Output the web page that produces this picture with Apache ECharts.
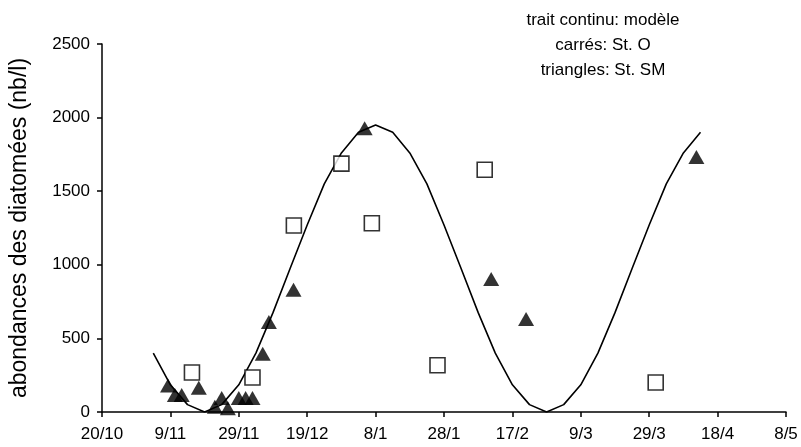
<!DOCTYPE html>
<html>
<head>
<meta charset="utf-8">
<script src="https://cdn.jsdelivr.net/npm/echarts@6/dist/echarts.min.js"></script>
<style>
  html, body { margin: 0; padding: 0; background: #fff; }
  #chart { width: 801px; height: 447px; }
</style>
</head>
<body>
<div id="chart"></div>
<script>
// Day numbers count from 20/10 (day 0); one tick every 20 days.
const tickLabels = ['20/10', '9/11', '29/11', '19/12', '8/1', '28/1', '17/2', '9/3', '29/3', '18/4', '8/5'];

// Model curve (trait continu), sampled every 5 days
const modelDays = [15, 20, 25, 30, 35, 40, 45, 50, 55, 60, 65, 70, 75, 80, 85, 90, 95,
  100, 105, 110, 115, 120, 125, 130, 135, 140, 145, 150, 155, 160, 165, 170, 175];
const modelValues = [400, 185, 50, 0, 50, 185, 400, 675, 975, 1270, 1550, 1760, 1900, 1950, 1900, 1760, 1550,
  1270, 975, 675, 400, 185, 50, 0, 50, 185, 400, 675, 975, 1270, 1550, 1760, 1900];

// Station O (carrés)
const stODays = [26.3, 44, 56.1, 70, 78.9, 98.1, 111.9, 161.9];
const stOValues = [268, 234, 1267, 1687, 1282, 318, 1646, 200];

// Station SM (triangles)
const stSMDays = [19.3, 21.3, 23.3, 28.3, 33, 35, 36.8, 40, 42, 44, 47, 48.8, 56, 76.8, 113.8, 124, 173.8];
const stSMValues = [180, 115, 115, 165, 35, 95, 25, 95, 95, 95, 395, 612, 830, 1928, 904, 631, 1732];

// Annotation lines at the top right
const noteLines = ['trait continu: modèle', 'carrés: St. O', 'triangles: St. SM'];

const pairs = (xs, ys) => xs.map((x, i) => [x, ys[i]]);

const FONT = '"Liberation Sans", Arial, sans-serif';
const chart = echarts.init(document.getElementById('chart'), null, { renderer: 'canvas' });

chart.setOption({
  animation: false,
  backgroundColor: '#ffffff',
  grid: { left: 99, right: 15, top: 44, bottom: 35, containLabel: false },
  xAxis: {
    type: 'value',
    min: 0,
    max: 200,
    interval: 20,
    splitLine: { show: false },
    axisLine: { lineStyle: { color: '#000', width: 1.5 } },
    axisTick: { show: true, length: 5, inside: false, lineStyle: { color: '#000', width: 1.5 } },
    axisLabel: {
      color: '#000', fontFamily: FONT, fontSize: 17, margin: 14,
      formatter: v => tickLabels[Math.round(v / 20)] || ''
    }
  },
  yAxis: {
    type: 'value',
    min: 0,
    max: 2500,
    interval: 500,
    name: 'abondances des diatomées (nb/l)',
    nameLocation: 'middle',
    nameGap: 71,
    nameTextStyle: { color: '#000', fontFamily: FONT, fontSize: 23 },
    splitLine: { show: false },
    axisLine: { show: true, lineStyle: { color: '#000', width: 1.5 } },
    axisTick: { show: true, length: 5, inside: false, lineStyle: { color: '#000', width: 1.5 } },
    axisLabel: { color: '#000', fontFamily: FONT, fontSize: 17, margin: 12, formatter: v => String(v) }
  },
  graphic: noteLines.map((t, i) => ({
    type: 'text',
    x: 603,
    y: 20 + i * 25,
    style: {
      text: t,
      textAlign: 'center',
      textVerticalAlign: 'middle',
      fill: '#000',
      font: '17px "Liberation Sans", Arial, sans-serif'
    }
  })),
  series: [
    {
      name: 'modèle',
      type: 'line',
      data: pairs(modelDays, modelValues),
      showSymbol: false,
      symbol: 'none',
      smooth: false,
      lineStyle: { color: '#000', width: 1.6 },
      z: 2
    },
    {
      name: 'St. O',
      type: 'scatter',
      data: pairs(stODays, stOValues),
      symbol: 'rect',
      symbolSize: 15,
      itemStyle: { color: '#fff', borderColor: '#000', borderWidth: 1.6 },
      z: 3
    },
    {
      name: 'St. SM',
      type: 'scatter',
      data: pairs(stSMDays, stSMValues),
      symbol: 'triangle',
      symbolSize: [16, 14],
      itemStyle: { color: '#000' },
      z: 4
    }
  ]
});
</script>
</body>
</html>
